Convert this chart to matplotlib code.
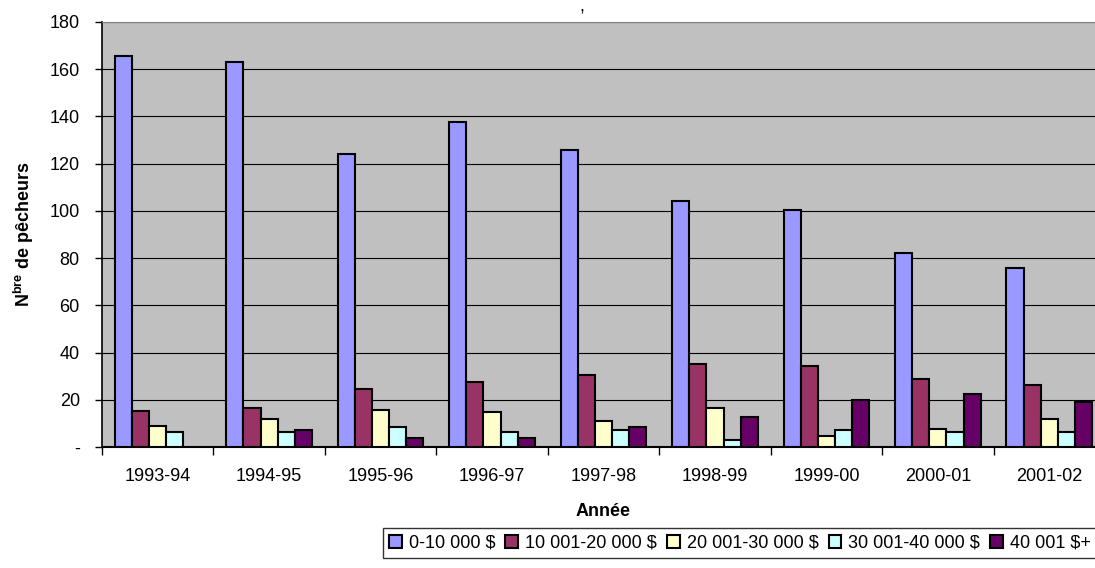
import numpy as np
import matplotlib
matplotlib.use('Agg')
import matplotlib.pyplot as plt

years = ['1993-94', '1994-95', '1995-96', '1996-97', '1997-98',
         '1998-99', '1999-00', '2000-01', '2001-02']
series_names = ['0-10 000 $', '10 001-20 000 $', '20 001-30 000 $',
                '30 001-40 000 $', '40 001 $+']
v_0_10 = [165.5, 163, 124, 137.5, 125.7, 104.2, 100.3, 82.1, 75.8]
v_10_20 = [15.1, 16.7, 24.6, 27.5, 30.4, 35, 34.3, 28.7, 26.3]
v_20_30 = [8.8, 11.9, 15.8, 15, 11, 16.7, 4.7, 7.8, 11.9]
v_30_40 = [6.4, 6.4, 8.6, 6.4, 7.1, 3, 7.2, 6.4, 6.4]
v_40_plus = [0, 7.1, 3.8, 3.9, 8.6, 12.9, 19.9, 22.3, 19.1]
colors = ['#9999FF', '#993366', '#FFFFCC', '#CCFFFF', '#660066']

plt.rcParams['font.family'] = ['Liberation Sans', 'DejaVu Sans']
plt.rcParams['mathtext.fontset'] = 'custom'
plt.rcParams['mathtext.rm'] = 'Liberation Sans'
plt.rcParams['mathtext.bf'] = 'Liberation Sans:bold'

fig = plt.figure(figsize=(10.95, 5.68), dpi=100)
ax = fig.add_axes([102 / 1095, 121 / 568, 1003 / 1095, 425 / 568])
ax.set_facecolor('#C0C0C0')

all_vals = [v_0_10, v_10_20, v_20_30, v_30_40, v_40_plus]
x = np.arange(len(years))
w = 1 / 6.5
for i, (vals, name, c) in enumerate(zip(all_vals, series_names, colors)):
    pos = x - 2.5 * w + (i + 0.5) * w
    # skip zero bars so they don't draw a line on the axis
    hs = [v if v > 0 else np.nan for v in vals]
    ax.bar(pos, hs, width=w, color=c, edgecolor='black', linewidth=1.5,
           label=name, zorder=3)

ax.set_xlim(-0.5, len(years) - 0.5)
ax.set_ylim(0, 180)
ax.set_yticks(range(0, 181, 20))
ax.set_yticklabels(['-'] + [str(v) for v in range(20, 181, 20)], fontsize=13)
ax.yaxis.grid(True, color='black', linewidth=0.8, zorder=0)
ax.set_axisbelow(True)

ax.set_xticks(x)
ax.set_xticklabels(years, fontsize=13)
ax.tick_params(axis='x', length=0, pad=15)
ax.set_xticks(np.arange(-0.5, len(years)), minor=True)
ax.tick_params(axis='x', which='minor', length=6, width=1, direction='out')
ax.tick_params(axis='y', length=5, width=1, direction='out', pad=11)

for s in ['top', 'right']:
    ax.spines[s].set_color('#808080')
ax.spines['left'].set_color('black')
ax.spines['bottom'].set_color('black')
ax.spines['left'].set_linewidth(1.2)
ax.spines['bottom'].set_linewidth(1.5)

ax.set_xlabel('Année', fontsize=13, fontweight='bold', labelpad=13)
ax.set_ylabel(r'N$^{\mathbf{bre}}$ de pêcheurs', fontsize=13, fontweight='bold')
ax.yaxis.set_label_coords(-66 / 1003, 0.5)

fig.text(582 / 1095, 1 - 11 / 568, ',', ha='center', va='baseline', fontsize=13)

leg = fig.legend(loc='center', bbox_to_anchor=(740 / 1095, 1 - 543 / 568), ncol=5,
                 fontsize=13, frameon=True, fancybox=False, edgecolor='black',
                 handlelength=0.7, handleheight=0.7, handletextpad=0.4,
                 columnspacing=0.55, borderpad=0.35)
leg.get_frame().set_linewidth(1)

fig.savefig('out.png', dpi=100)
